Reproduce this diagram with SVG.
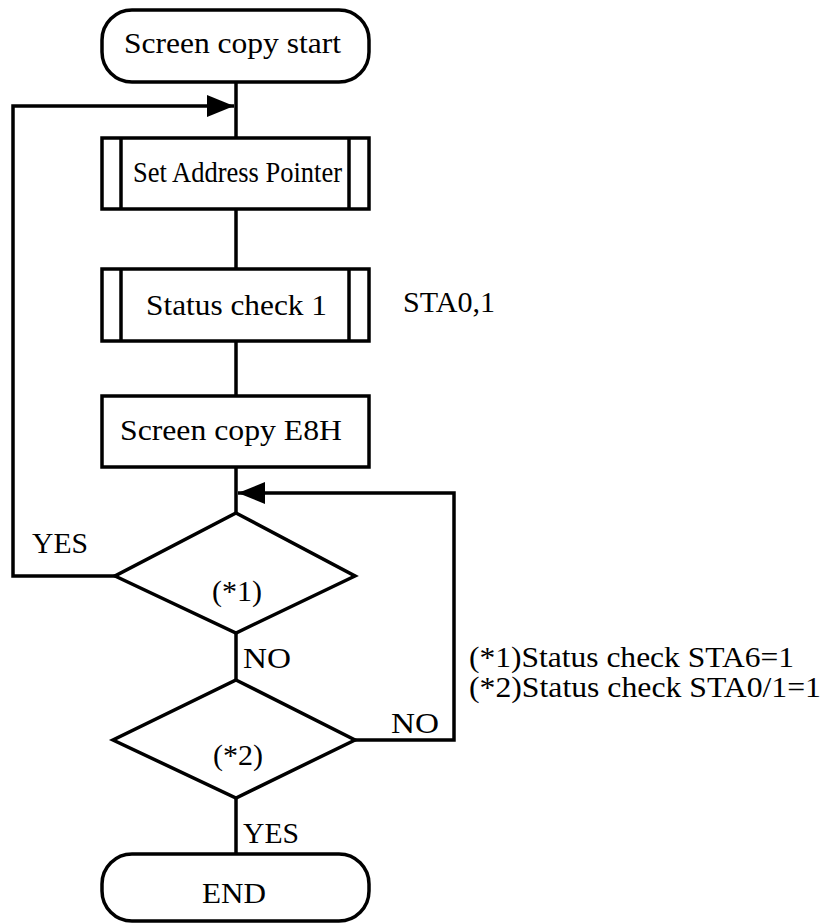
<svg xmlns="http://www.w3.org/2000/svg" width="824" height="923" viewBox="0 0 824 923">
<style>
.s{fill:none;stroke:#000;stroke-width:3.5}
.b{fill:#fff;stroke:#000;stroke-width:3.5}
.t{font-family:'Liberation Serif','DejaVu Serif','Times New Roman',serif;font-size:30px;fill:#000}
</style>
<defs>
<marker id="ah" markerWidth="28" markerHeight="22" refX="27" refY="11" orient="auto" markerUnits="userSpaceOnUse">
<path d="M0,0 L27,11 L0,22 Z" fill="#000"/>
</marker>
</defs>
<rect width="824" height="923" fill="#fff"/>
<g id="connectors">
<line class="s" x1="236" y1="82" x2="236" y2="138"/>
<line class="s" x1="236" y1="209" x2="236" y2="269"/>
<line class="s" x1="236" y1="341" x2="236" y2="396"/>
<line class="s" x1="236" y1="467" x2="236" y2="513"/>
<line class="s" x1="236" y1="633" x2="236" y2="680"/>
<line class="s" x1="236" y1="798" x2="236" y2="854"/>
<polyline class="s" points="115,576 13,576 13,106 234,106" marker-end="url(#ah)"/>
<polyline class="s" points="355,740 454,740 454,493 238,493" marker-end="url(#ah)"/>
<text class="t" x="32" y="553" textLength="56" lengthAdjust="spacingAndGlyphs">YES</text>
<text class="t" x="243" y="668" textLength="48" lengthAdjust="spacingAndGlyphs">NO</text>
<text class="t" x="391" y="733" textLength="48" lengthAdjust="spacingAndGlyphs">NO</text>
<text class="t" x="243" y="843" textLength="56" lengthAdjust="spacingAndGlyphs">YES</text>
</g>
<g id="start">
<rect class="b" x="102" y="10" width="267" height="72" rx="30" ry="30"/>
<text class="t" x="124" y="53" textLength="217" lengthAdjust="spacingAndGlyphs">Screen copy start</text>
</g>
<g id="setAddress">
<rect class="b" x="102" y="138" width="267" height="71"/>
<line class="s" x1="121" y1="138" x2="121" y2="209"/>
<line class="s" x1="349" y1="138" x2="349" y2="209"/>
<text class="t" x="133" y="182" textLength="209" lengthAdjust="spacingAndGlyphs">Set Address Pointer</text>
</g>
<g id="status1">
<rect class="b" x="102" y="269" width="267" height="72"/>
<line class="s" x1="121" y1="269" x2="121" y2="341"/>
<line class="s" x1="349" y1="269" x2="349" y2="341"/>
<text class="t" x="146" y="315" textLength="181" lengthAdjust="spacingAndGlyphs">Status check 1</text>
<text class="t" x="403" y="312" textLength="92" lengthAdjust="spacingAndGlyphs">STA0,1</text>
</g>
<g id="copyE8H">
<rect class="b" x="102" y="396" width="267" height="71"/>
<text class="t" x="120" y="440" textLength="222" lengthAdjust="spacingAndGlyphs">Screen copy E8H</text>
</g>
<g id="dec1">
<polygon class="b" points="236,513 355,576 236,633 115,576"/>
<text class="t" x="212" y="601" textLength="50" lengthAdjust="spacingAndGlyphs">(*1)</text>
</g>
<g id="dec2">
<polygon class="b" points="236,680 355,740 236,798 113,740"/>
<text class="t" x="213" y="765" textLength="50" lengthAdjust="spacingAndGlyphs">(*2)</text>
</g>
<g id="end">
<rect class="b" x="102" y="854" width="267" height="67" rx="30" ry="30"/>
<text class="t" x="202" y="903" textLength="64" lengthAdjust="spacingAndGlyphs">END</text>
</g>
<g id="notes">
<text class="t" style="font-size:29px" x="469" y="667" textLength="325" lengthAdjust="spacingAndGlyphs">(*1)Status check STA6=1</text>
<text class="t" style="font-size:29px" x="469" y="697" textLength="352" lengthAdjust="spacingAndGlyphs">(*2)Status check STA0/1=1</text>
</g>
</svg>
